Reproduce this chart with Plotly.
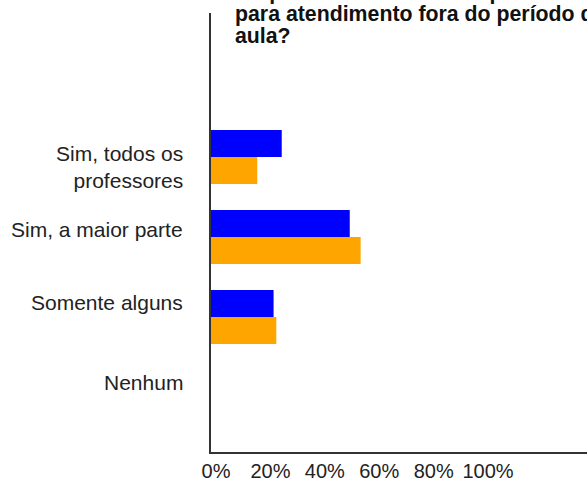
import plotly.graph_objects as go

# ---- data ----
categories = ["Sim, todos os<br>professores", "Sim, a maior parte", "Somente alguns", "Nenhum"]
serie_azul = [26, 51, 23, 0]
serie_laranja = [17, 55, 24, 0]
tick_values = [0, 20, 40, 60, 80, 100]
tick_labels = ["0%", "20%", "40%", "60%", "80%", "100%"]
title_lines = ["Os professores estão disponíveis",
               "para atendimento fora do período de",
               "aula?"]

FONT = "Liberation Sans, Arial, sans-serif"

fig = go.Figure()
fig.add_trace(go.Bar(y=categories, x=serie_azul, orientation="h",
                     marker=dict(color="#0000FF", line=dict(width=0)),
                     name="Série 1", hoverinfo="x+y"))
fig.add_trace(go.Bar(y=categories, x=serie_laranja, orientation="h",
                     marker=dict(color="#FFA500", line=dict(width=0)),
                     name="Série 2", hoverinfo="x+y"))

# category labels (right aligned, left of the axis)
label_yshift = [-10, 8, 15, 15]
for cat, ys in zip(categories, label_yshift):
    fig.add_annotation(text=cat, xref="paper", x=0, yref="y", y=cat,
                       xanchor="right", yanchor="middle", align="right",
                       xshift=-26, yshift=ys, showarrow=False,
                       font=dict(family=FONT, size=21, color="#222222"))

# title (clipped at top / right like the reference)
title_shift = [21, -1, -23]
for line, ys in zip(title_lines, title_shift):
    fig.add_annotation(text="<b>" + line + "</b>", xref="paper", x=0, yref="paper", y=1,
                       xanchor="left", yanchor="middle", align="left",
                       xshift=22, yshift=ys, showarrow=False,
                       font=dict(family=FONT, size=21.3, color="#111111"))

fig.update_layout(
    width=587, height=482,
    margin=dict(l=211, r=0, t=13, b=30, pad=0, autoexpand=False),
    paper_bgcolor="white", plot_bgcolor="white",
    barmode="group", bargap=0.325, bargroupgap=0,
    showlegend=False,
    font=dict(family=FONT, size=20, color="#222222"),
)
fig.update_xaxes(range=[0, 138.2], tickvals=tick_values, ticktext=tick_labels,
                 showgrid=False, zeroline=False, showline=True, linewidth=2,
                 linecolor="#333333", ticks="", ticklabelshift=5,
                 tickfont=dict(family=FONT, size=20, color="#222222"))
fig.update_yaxes(type="category", range=[3.6875, -1.8], showticklabels=False,
                 showgrid=False, zeroline=False, showline=True, linewidth=2,
                 linecolor="#333333", ticks="")

fig.write_html("out.html", config={"displayModeBar": False},
               post_script="document.body.style.margin='0';document.body.style.overflow='hidden';")
